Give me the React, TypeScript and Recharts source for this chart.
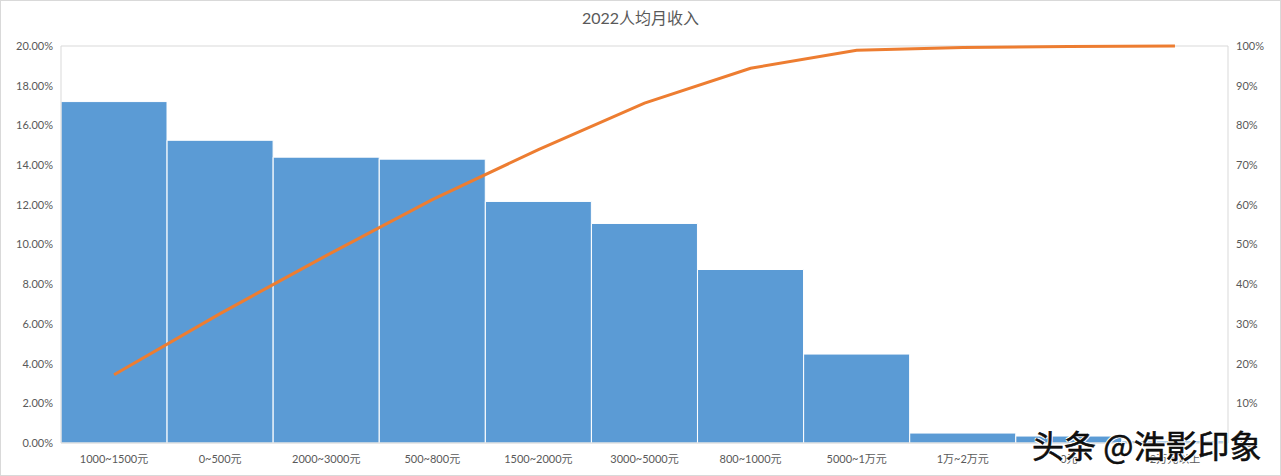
import React from 'react';
import { ComposedChart, Bar, Line, XAxis, YAxis, CartesianGrid } from 'recharts';

const categories = [
  '1000~1500元', '0~500元', '2000~3000元', '500~800元', '1500~2000元',
  '3000~5000元', '800~1000元', '5000~1万元', '1万~2万元', '0元', '2万元以上',
];
// share of people per income band (%)
const shares = [17.2, 15.25, 14.4, 14.3, 12.17, 11.06, 8.74, 4.48, 0.5, 0.35, 0.1];
// cumulative share (%)
const cumulative = [17.2, 32.6, 47.2, 61.3, 73.9, 85.6, 94.4, 98.9, 99.6, 99.9, 100];

const leftTicks = [0, 2, 4, 6, 8, 10, 12, 14, 16, 18, 20];
const rightTicks = [0, 10, 20, 30, 40, 50, 60, 70, 80, 90, 100];

const data = categories.map((name, i) => ({ name, share: shares[i], cum: cumulative[i] }));

const font = "Lato, 'Noto Sans CJK SC', sans-serif";
const tickStyle = { fontSize: 11, fill: '#595959', fontFamily: font };

export default function App() {
  return (
    <div style={{ position: 'absolute', left: 0, top: 0, width: 1281, height: 476, background: '#fff' }}>
      <div style={{ position: 'absolute', inset: 0, border: '1px solid #d9d9d9', boxSizing: 'border-box' }} />
      <div
        style={{
          position: 'absolute', top: 5, left: 0, width: 1281, textAlign: 'center',
          fontFamily: font, fontSize: 16, color: '#595959',
        }}
      >
        2022人均月收入
      </div>
      <ComposedChart
        width={1281}
        height={476}
        data={data}
        margin={{ top: 46, right: 8, bottom: 8, left: 6 }}
        barCategoryGap={0}
      >
        <CartesianGrid vertical={false} stroke="#d9d9d9" />
        <XAxis
          dataKey="name"
          axisLine={{ stroke: '#d9d9d9' }}
          tickLine={false}
          tick={tickStyle}
          tickMargin={6}
          height={25}
          interval={0}
        />
        <YAxis
          yAxisId="left"
          domain={[0, 20]}
          ticks={leftTicks}
          tickFormatter={(v) => `${v.toFixed(2)}%`}
          axisLine={{ stroke: '#d9d9d9' }}
          tickLine={false}
          tick={tickStyle}
          width={55}
        />
        <YAxis
          yAxisId="right"
          orientation="right"
          domain={[0, 100]}
          ticks={rightTicks}
          tickFormatter={(v) => `${v}%`}
          axisLine={{ stroke: '#d9d9d9' }}
          tickLine={false}
          tick={tickStyle}
          width={45}
        />
        <Bar
          yAxisId="left"
          dataKey="share"
          fill="#5b9bd5"
          stroke="#ffffff"
          strokeWidth={1}
          isAnimationActive={false}
        />
        <Line
          yAxisId="right"
          dataKey="cum"
          type="linear"
          stroke="#ed7d31"
          strokeWidth={3}
          dot={false}
          isAnimationActive={false}
        />
      </ComposedChart>
      <div
        style={{
          position: 'absolute', left: 1032, top: 421, fontSize: 32, color: '#111',
          fontFamily: "'Noto Sans CJK SC', sans-serif", whiteSpace: 'nowrap',
          WebkitTextStroke: '0.5px #000',
          textShadow: '1px 1px 0 #fff, -1px -1px 0 #fff, 1px -1px 0 #fff, -1px 1px 0 #fff',
        }}
      >
        头条 @浩影印象
      </div>
    </div>
  );
}
